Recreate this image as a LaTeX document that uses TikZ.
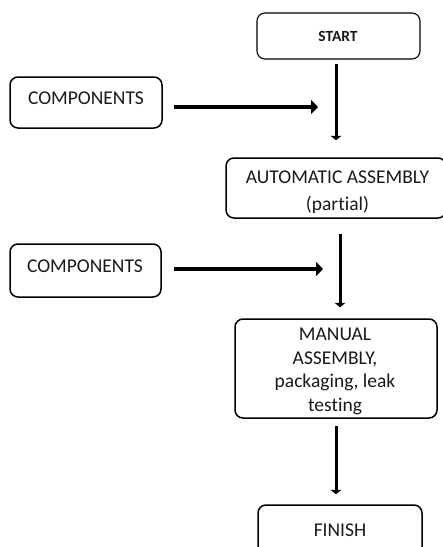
\documentclass[tikz,border=0pt]{standalone}
\usepackage{fontspec}
\setmainfont[Ligatures=CommonOff]{Carlito}
\usetikzlibrary{arrows.meta,calc}
\begin{document}
\begin{tikzpicture}[x=1pt,y=-1pt,
  box/.style={draw, line width=1.5pt, rounded corners=8pt, inner sep=0pt},
  lbl/.style={anchor=base, inner sep=0pt, align=center, font=\fontsize{19.5}{23.8}\selectfont, text=black!90},
  harr/.style={line width=3.2pt, -{Triangle[width=14pt,length=7pt]}},
  varr/.style={line width=3pt, -{Triangle[width=11pt,length=4.5pt]}}]
\clip (0,0) rectangle (443,547);
% boxes
\node[box, line width=1.1pt, minimum width=163pt, minimum height=46pt] (start) at (338.5,36) {};
\node[box, minimum width=152pt, minimum height=51pt] (comp1) at (86,102.5) {};
\node[box, minimum width=220pt, minimum height=60pt] (auto) at (336,188) {};
\node[box, minimum width=151pt, minimum height=53pt] (comp2) at (85.5,270.5) {};
\node[box, minimum width=202pt, minimum height=99pt] (manual) at (336,368.5) {};
\node[box, minimum width=164pt, minimum height=65pt] (finish) at (340,537.5) {};
% labels (base anchor = baseline of the last line)
\node[lbl, font=\fontsize{15.5}{18}\selectfont\bfseries] (startT) at (338,41.7) {START};
\node[lbl] (c1T) at (86,104.3) {COMPONENTS};
\node[lbl] (autoT) at (337.5,210) {AUTOMATIC ASSEMBLY\\[3pt](partial)};
\node[lbl] (c2T) at (85,272.7) {COMPONENTS};
\node[lbl] (manT) at (335,411.7) {MANUAL\\ASSEMBLY,\\packaging, leak\\testing};
\node[lbl] (finT) at (340,536.7) {FINISH};
% free arrow ends
\coordinate (h1end) at (318,107);
\coordinate (h2end) at (323,269);
% connectors
\draw[varr, shorten <=4pt, shorten >=17pt] ([xshift=-2.5pt]start.south) -- ([xshift=-2.5pt]start.south |- auto.north);
\draw[harr] ([xshift=11pt,yshift=-4.5pt]comp1.east) -- (h1end);
\draw[varr, shorten <=15pt, shorten >=11pt] ([xshift=4pt]auto.south) -- ([xshift=4pt]auto.south |- manual.north);
\draw[harr] ([xshift=12pt,yshift=1.5pt]comp2.east) -- (h2end);
\draw[varr, shorten <=7pt, shorten >=10pt] (manual.south) -- (manual.south |- finish.north);
\end{tikzpicture}
\end{document}
